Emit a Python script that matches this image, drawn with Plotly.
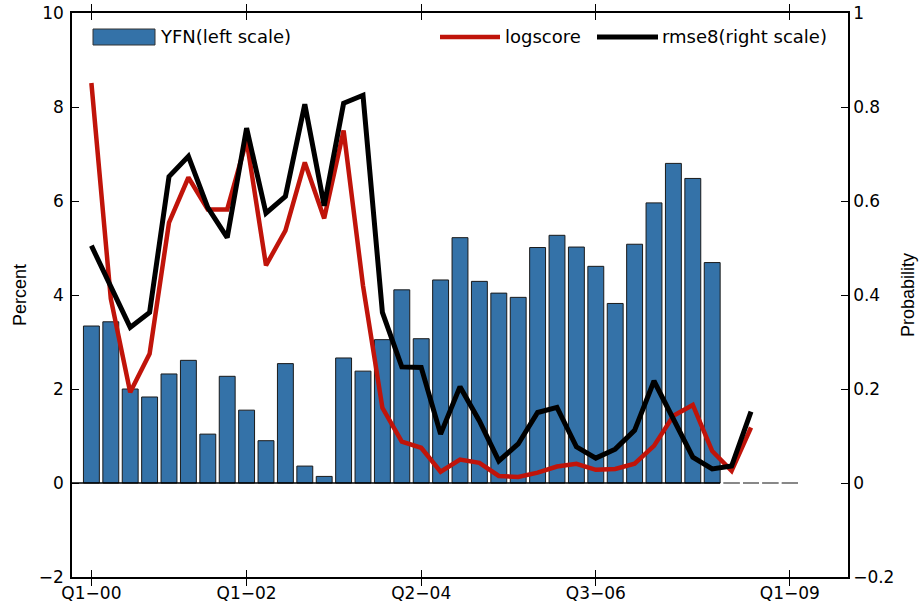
import plotly.graph_objects as go

# ---------------- data ----------------
quarters = ["Q1-00", "Q2-00", "Q3-00", "Q4-00", "Q1-01", "Q2-01", "Q3-01", "Q4-01",
            "Q1-02", "Q2-02", "Q3-02", "Q4-02", "Q1-03", "Q2-03", "Q3-03", "Q4-03",
            "Q1-04", "Q2-04", "Q3-04", "Q4-04", "Q1-05", "Q2-05", "Q3-05", "Q4-05",
            "Q1-06", "Q2-06", "Q3-06", "Q4-06", "Q1-07", "Q2-07", "Q3-07", "Q4-07",
            "Q1-08", "Q2-08", "Q3-08", "Q4-08", "Q1-09"]

yfn = [3.34, 3.43, 2.00, 1.83, 2.32, 2.61, 1.04, 2.27, 1.55, 0.90, 2.54, 0.36,
       0.14, 2.66, 2.38, 3.05, 4.11, 3.07, 4.32, 5.22, 4.29, 4.04, 3.95, 5.01,
       5.27, 5.02, 4.61, 3.82, 5.08, 5.96, 6.80, 6.48, 4.69, 0, 0, 0, 0]

logscore = [0.851, 0.392, 0.193, 0.275, 0.554, 0.650, 0.582, 0.582, 0.729, 0.463,
            0.537, 0.682, 0.563, 0.750, 0.420, 0.160, 0.088, 0.075, 0.024, 0.050,
            0.043, 0.015, 0.013, 0.022, 0.035, 0.041, 0.028, 0.030, 0.041, 0.079,
            0.143, 0.166, 0.068, 0.026, 0.118]

rmse8 = [0.505, 0.420, 0.331, 0.363, 0.652, 0.695, 0.586, 0.522, 0.755, 0.574,
         0.610, 0.806, 0.590, 0.808, 0.825, 0.363, 0.247, 0.246, 0.104, 0.205,
         0.132, 0.047, 0.083, 0.150, 0.161, 0.077, 0.053, 0.072, 0.112, 0.217,
         0.136, 0.055, 0.030, 0.036, 0.152]

tick_labels = ["Q1\u221200", "Q1\u221202", "Q2\u221204", "Q3\u221206", "Q1\u221209"]
tick_quarters = ["Q1-00", "Q1-02", "Q2-04", "Q3-06", "Q1-09"]

# ---------------- style ----------------
W, H = 922, 603
ML, MR, MT, MB = 72, 922 - 848, 13, 603 - 577
FONT = "DejaVu Sans, sans-serif"
TFONT = "Liberation Sans, Arial, sans-serif"
BAR_COLOR = "#3472a8"
RED = "#c0140a"
BLACK = "#000000"
BAR_W = 0.82

xs = list(range(len(quarters)))
tickvals = [quarters.index(q) for q in tick_quarters]
xr = [-1, 39]

fig = go.Figure()

fig.add_trace(go.Bar(
    x=xs, y=yfn, width=BAR_W, name="YFN(left scale)",
    marker=dict(color=BAR_COLOR, line=dict(color="#1a1a1a", width=1)),
    showlegend=False, yaxis="y"))

# bar baseline (up to the last non-zero bar) and zero-value bars as grey dashes
last_real = max(i for i, v in enumerate(yfn) if v != 0)
fig.add_trace(go.Scatter(
    x=[xr[0], last_real + BAR_W / 2], y=[0, 0], mode="lines",
    line=dict(color="black", width=1.5), showlegend=False, hoverinfo="skip"))
dx, dy = [], []
for i, v in enumerate(yfn):
    if v == 0:
        dx += [i - BAR_W / 2, i + BAR_W / 2, None]
        dy += [0, 0, None]
fig.add_trace(go.Scatter(x=dx, y=dy, mode="lines", line=dict(color="#9a9a9a", width=1.5),
                         showlegend=False, hoverinfo="skip"))

fig.add_trace(go.Scatter(
    x=xs[:len(logscore)], y=logscore, mode="lines", name="logscore",
    line=dict(color=RED, width=4.5), yaxis="y2", showlegend=False))
fig.add_trace(go.Scatter(
    x=xs[:len(rmse8)], y=rmse8, mode="lines", name="rmse8(right scale)",
    line=dict(color=BLACK, width=5), yaxis="y2", showlegend=False))

axis_common = dict(showgrid=False, zeroline=False, showline=True, linecolor="black",
                   linewidth=1.5, ticks="inside", ticklen=7, tickcolor="black",
                   ticklabeloverflow="allow",
                   tickfont=dict(family=FONT, size=17, color="black"))

fig.update_layout(
    width=W, height=H,
    margin=dict(l=ML, r=MR, t=MT, b=MB, autoexpand=False),
    plot_bgcolor="white", paper_bgcolor="white",
    font=dict(family=FONT, size=17, color="black"),
    bargap=0.18,
    xaxis=dict(range=xr, tickvals=tickvals, ticktext=tick_labels, mirror="allticks",
               **axis_common),
    yaxis=dict(range=[-2, 10], tickvals=[-2, 0, 2, 4, 6, 8, 10], ticklabelstandoff=3,
               title=dict(text="Percent", font=dict(family=TFONT, size=18), standoff=7),
               **axis_common),
    yaxis2=dict(range=[-0.2, 1], tickvals=[-0.2, 0, 0.2, 0.4, 0.6, 0.8, 1],
                overlaying="y", side="right",
                title=dict(text="Probability", font=dict(family=TFONT, size=18), standoff=8),
                **axis_common),
)

# ---- manual legend (pixel positions converted to paper coords) ----
pw, ph = W - ML - MR, H - MT - MB
def px(x):
    return (x - ML) / pw
def py(y):
    return (H - MB - y) / ph

ly = 37
fig.add_shape(type="rect", xref="paper", yref="paper", x0=px(93), x1=px(155),
              y0=py(45), y1=py(29), fillcolor=BAR_COLOR, line=dict(color="#333", width=1))
fig.add_shape(type="line", xref="paper", yref="paper", x0=px(440), x1=px(500),
              y0=py(ly), y1=py(ly), line=dict(color=RED, width=4.5))
fig.add_shape(type="line", xref="paper", yref="paper", x0=px(597), x1=px(658),
              y0=py(ly), y1=py(ly), line=dict(color=BLACK, width=5))
for x, t in [(158, "YFN(left scale)"), (503, "logscore"), (660, "rmse8(right scale)")]:
    fig.add_annotation(xref="paper", yref="paper", x=px(x), y=py(ly), text=t,
                       showarrow=False, xanchor="left", yanchor="middle",
                       font=dict(family=FONT, size=18, color="black"))

# remove the default 8px page margin so the figure fills the window exactly
fig.write_html("out.html", config={"displayModeBar": False},
               post_script="document.body.style.margin='0';document.body.style.overflow='hidden';")
